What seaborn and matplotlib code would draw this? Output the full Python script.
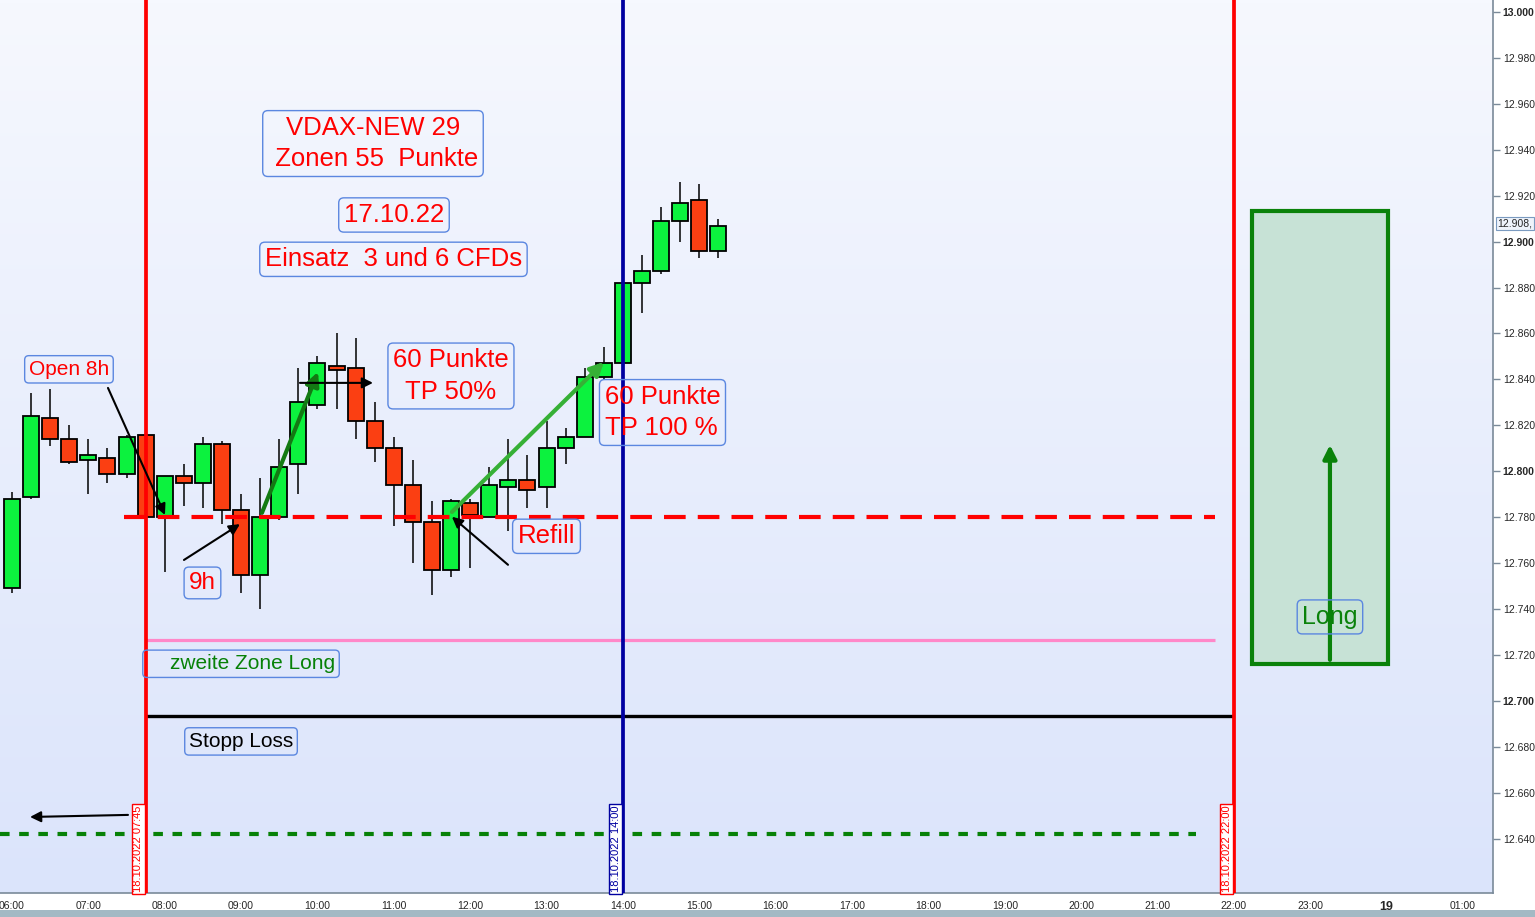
import matplotlib
matplotlib.use("Agg")
import matplotlib.pyplot as plt
import matplotlib.transforms as mtransforms
import numpy as np
import pandas as pd
import seaborn as sns
from matplotlib.colors import LinearSegmentedColormap
from matplotlib.patches import Rectangle

# 15-Minuten-Kerzen DAX, 18.10.2022
times = ["06:00", "06:15", "06:30", "06:45", "07:00", "07:15", "07:30", "07:45",
         "08:00", "08:15", "08:30", "08:45", "09:00", "09:15", "09:30", "09:45",
         "10:00", "10:15", "10:30", "10:45", "11:00", "11:15", "11:30", "11:45",
         "12:00", "12:15", "12:30", "12:45", "13:00", "13:15", "13:30", "13:45",
         "14:00", "14:15", "14:30", "14:45", "15:00", "15:15"]
opens = [12749, 12789, 12823, 12814, 12805, 12806, 12799, 12816,
         12780, 12798, 12795, 12812, 12783, 12755, 12780, 12803,
         12829, 12846, 12845, 12822, 12810, 12794, 12778, 12757,
         12786, 12780, 12793, 12796, 12793, 12810, 12815, 12841,
         12847, 12882, 12887, 12909, 12918, 12896]
highs = [12791, 12834, 12836, 12820, 12814, 12810, 12816, 12816,
         12798, 12803, 12815, 12813, 12790, 12797, 12814, 12845,
         12850, 12860, 12858, 12830, 12815, 12805, 12787, 12788,
         12788, 12802, 12814, 12807, 12822, 12819, 12845, 12854,
         12882, 12894, 12915, 12926, 12925, 12910]
lows = [12747, 12788, 12811, 12803, 12790, 12795, 12797, 12779,
        12756, 12785, 12784, 12777, 12747, 12740, 12779, 12790,
        12827, 12827, 12814, 12804, 12776, 12760, 12746, 12754,
        12758, 12780, 12774, 12784, 12784, 12803, 12815, 12840,
        12847, 12869, 12886, 12900, 12893, 12893]
closes = [12788, 12824, 12814, 12804, 12807, 12799, 12815, 12780,
          12798, 12795, 12812, 12783, 12755, 12780, 12802, 12830,
          12847, 12844, 12822, 12810, 12794, 12778, 12757, 12787,
          12781, 12794, 12796, 12792, 12810, 12815, 12841, 12847,
          12882, 12887, 12909, 12917, 12896, 12907]

# Zonen / Linien
refill_level = 12780      # rot gestrichelt
zone2_level = 12726.5     # rosa
stop_level = 12693.5      # schwarz
lower_level = 12642       # gruen gestrichelt
last_price = 12908

# Zeitachse (Stunden)
xtick_hours = [6, 7, 8, 9, 10, 11, 12, 13, 14, 15, 16, 17, 18, 19, 20, 21, 22, 23, 24, 25]
xtick_labels = ["06:00", "07:00", "08:00", "09:00", "10:00", "11:00", "12:00", "13:00",
                "14:00", "15:00", "16:00", "17:00", "18:00", "19:00", "20:00", "21:00",
                "22:00", "23:00", "19", "01:00"]


def hours(s):
    h, m = s.split(":")
    return int(h) + int(m) / 60


df = pd.DataFrame({"time": times, "open": opens, "high": highs, "low": lows, "close": closes})
df["t"] = df["time"].map(hours)
df["up"] = df["close"] >= df["open"]
df["bottom"] = df[["open", "close"]].min(axis=1)
df["body"] = (df["close"] - df["open"]).abs().clip(lower=1)

sns.set_style("white")
plt.rcParams["font.family"] = ["Liberation Sans", "DejaVu Sans"]

fig = plt.figure(figsize=(15.35, 9.17), dpi=100)
ax = fig.add_axes([0, 24 / 917, 1493 / 1535, 893 / 917])

x0, x1 = 5.843, 25.393
y0, y1 = 12616.4, 13005.2

# Hintergrund-Verlauf
bg = LinearSegmentedColormap.from_list("bg", ["#dbe4fb", "#f6f8fe"])
ax.imshow(np.linspace(0, 1, 256).reshape(-1, 1), extent=[x0, x1, y0, y1], origin="lower",
          aspect="auto", cmap=bg, zorder=0)

# Kerzen
ax.vlines(df["t"], df["low"], df["high"], color="black", lw=1.1, zorder=3)
ax.bar(df["t"], df["body"], bottom=df["bottom"], width=0.21,
       color=np.where(df["up"], "#0cf23e", "#fb3f12"),
       edgecolor="black", linewidth=1.3, zorder=4)

# horizontale Linien
ax.hlines(refill_level, hours("07:30") - 0.03, hours("21:45"), color="#ff0000", lw=3,
          linestyles=(0, (5.2, 2.9)), zorder=5)
ax.hlines(zone2_level, hours("07:45"), hours("21:45"), color="#ff88c8", lw=2.3, zorder=2)
ax.hlines(stop_level, hours("07:45"), hours("22:00"), color="black", lw=2.4, zorder=2)
ax.hlines(lower_level, x0, hours("21:30"), color="#078107", lw=3,
          linestyles=(0, (2.3, 2.3)), zorder=2)

# vertikale Linien + Datum-Labels
for ts, col in [("07:45", "#ff0000"), ("14:00", "#0000a0"), ("22:00", "#ff0000")]:
    ax.axvline(hours(ts), color=col, lw=2.7, zorder=6)
    ax.text(hours(ts) - 0.03, y0 + 0.3, "18.10.2022 " + ts, rotation=90, ha="right", va="bottom",
            fontsize=8, color=col, zorder=7,
            bbox=dict(boxstyle="square,pad=0.15", fc="white", ec=col, lw=1))

# Long-Box
ax.add_patch(Rectangle((22.237, 12716.2), 24.017 - 22.237, 12913.4 - 12716.2,
                       fc="#c7e2d6", ec="#0a820a", lw=3, zorder=2))

# Pfeile
def arrow(xy_from, xy_to, color, lw, ms):
    ax.annotate("", xy=xy_to, xytext=xy_from, zorder=8,
                arrowprops=dict(arrowstyle="-|>", color=color, lw=lw, mutation_scale=ms,
                                shrinkA=0, shrinkB=0))


arrow((7.257, 12836.3), (8.003, 12781), "black", 1.5, 16)
arrow((8.252, 12761.4), (8.985, 12777), "black", 1.5, 16)
arrow((9.273, 12781.9), (10.007, 12843.3), "#137a13", 3, 20)
arrow((9.771, 12838.5), (10.727, 12838.5), "black", 1.5, 16)
arrow((12.495, 12759.3), (11.761, 12780.2), "black", 1.5, 16)
arrow((11.761, 12782.3), (13.752, 12847.6), "#36b036", 3, 20)
arrow((7.519, 12650.4), (6.236, 12649.5), "black", 1.5, 16)
arrow((23.258, 12717.9), (23.258, 12811.5), "#0a820a", 3, 20)

# Textboxen
box_style = dict(boxstyle="round,pad=0.2,rounding_size=0.2", fc="none", ec="#5b87e0", lw=1)


def label(x, y, s, color, size, ha="center"):
    ax.text(x, y, s, ha=ha, va="center", color=color, fontsize=size, zorder=9,
            multialignment="center" if ha == "center" else "left", linespacing=1.4,
            bbox=box_style)


label(10.727, 12942.7, "VDAX-NEW 29\n Zonen 55  Punkte", "#ff0000", 18.5)
label(11.002, 12911.6, "17.10.22", "#ff0000", 18.5)
label(10.995, 12892.3, "Einsatz  3 und 6 CFDs", "#ff0000", 18.5)
label(11.748, 12841.5, "60 Punkte\nTP 50%", "#ff0000", 18.5)
label(13.76, 12825.6, "60 Punkte\nTP 100 %", "#ff0000", 18.5, ha="left")
label(12.999, 12771.7, "Refill", "#ff0000", 18.5)
label(6.746, 12844.4, "Open 8h", "#ff0000", 15)
label(8.494, 12751.4, "9h", "#ff0000", 17.5)
label(8.999, 12716.2, "    zweite Zone Long", "#078107", 15)
label(8.999, 12682.4, "Stopp Loss", "black", 15)
label(23.258, 12736.6, "Long", "#0a820a", 18)

# Achsen
ax.set_xlim(x0, x1)
ax.set_ylim(y0, y1)
ax.set_xticks(xtick_hours)
ax.set_xticklabels(xtick_labels)
yticks = np.arange(12640, 13001, 20)
ax.set_yticks(yticks)
ax.set_yticklabels([f"{v:,.0f}".replace(",", ".") for v in yticks])
ax.yaxis.tick_right()
ax.tick_params(axis="x", direction="out", length=4, width=1, color="#7a8a99", labelsize=7.5, pad=2)
ax.tick_params(axis="y", direction="out", length=5, width=1, color="#7a8a99", labelsize=7.5, pad=2)
for lab in ax.get_yticklabels():
    if lab.get_text().endswith("00"):
        lab.set_fontweight("bold")
for lab in ax.get_xticklabels():
    if lab.get_text() == "19":
        lab.set_fontweight("bold")
        lab.set_fontsize(9)
for side in ["left", "top"]:
    ax.spines[side].set_visible(False)
for side in ["right", "bottom"]:
    ax.spines[side].set_color("#7a8a99")
    ax.spines[side].set_linewidth(1.2)

# aktueller Kurs
trans = mtransforms.blended_transform_factory(ax.transAxes, ax.transData)
ax.text(1.003, last_price, "12.908,", transform=trans, ha="left", va="center", fontsize=7.5,
        clip_on=False, bbox=dict(boxstyle="square,pad=0.15", fc="#eef3fb", ec="#7a9ac0", lw=0.8))

# Leiste unten
fig.patches.append(Rectangle((0, 0), 1, 7 / 917, transform=fig.transFigure,
                             fc="#a3b9c4", ec="none"))

fig.savefig("out.png", dpi=100)
